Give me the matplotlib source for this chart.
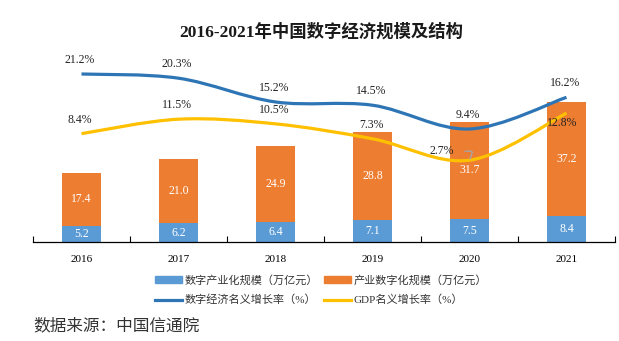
import numpy as np
import matplotlib
matplotlib.use("Agg")
import matplotlib.pyplot as plt
from matplotlib.path import Path
from matplotlib.patches import PathPatch, Patch
from matplotlib.lines import Line2D

# données (CAICT)
annees = ["2016", "2017", "2018", "2019", "2020", "2021"]
industrie_num = [5.2, 6.2, 6.4, 7.1, 7.5, 8.4]        # 数字产业化规模
num_industrie = [17.4, 21.0, 24.9, 28.8, 31.7, 37.2]  # 产业数字化规模
croiss_eco_num = [21.2, 20.3, 15.2, 14.5, 9.4, 16.2]  # 数字经济名义增长率
croiss_pib = [8.4, 11.5, 10.5, 7.3, 2.7, 12.8]        # GDP名义增长率

BLEU_CLAIR = "#5B9BD5"
ORANGE = "#ED7D31"
BLEU = "#2E75B6"
JAUNE = "#FFC000"
POLICE = ["Liberation Serif", "Noto Sans CJK SC"]

plt.rcParams["font.family"] = POLICE


def courbe_lisse(x, y):
    '''chemin de Bezier qui passe par tous les points (comme les courbes lissees d'Excel)'''
    pts = np.column_stack([x, y]).astype(float)
    n = len(pts)
    verts = [pts[0]]
    codes = [Path.MOVETO]
    for i in range(n - 1):
        p0 = pts[i - 1] if i > 0 else pts[i]
        p1 = pts[i]
        p2 = pts[i + 1]
        p3 = pts[i + 2] if i + 2 < n else pts[i + 1]
        c1 = p1 + (p2 - p0) / 6
        c2 = p2 - (p3 - p1) / 6
        verts += [c1, c2, p2]
        codes += [Path.CURVE4] * 3
    return Path(verts, codes)


fig = plt.figure(figsize=(6.19, 3.41), dpi=100)
ax = fig.add_axes([33 / 619, 99 / 341, 582 / 619, 192 / 341])
x = np.arange(len(annees))

b1 = ax.bar(x, industrie_num, 0.4, color=BLEU_CLAIR)
b2 = ax.bar(x, num_industrie, 0.4, bottom=industrie_num, color=ORANGE)
for i in range(len(x)):
    ax.text(x[i], industrie_num[i] / 2, "%.1f" % industrie_num[i], ha="center", va="center",
            color="white", fontsize=8.5)
    ax.text(x[i], industrie_num[i] + num_industrie[i] / 2, "%.1f" % num_industrie[i],
            ha="center", va="center", color="white", fontsize=8.5)

ax.set_xlim(-0.5, 5.5)
ax.set_ylim(0, 62.7)
ax.set_xticks(np.arange(-0.5, 6, 1))
ax.set_xticklabels([])
ax.set_xticks(x, minor=True)
ax.set_xticklabels(annees, minor=True, fontsize=8)
ax.tick_params(axis="x", which="major", direction="in", length=4, width=0.8)
ax.tick_params(axis="x", which="minor", length=0, pad=9)
ax.set_yticks([])
for s in ["left", "right", "top"]:
    ax.spines[s].set_visible(False)
ax.spines["bottom"].set_linewidth(0.9)

ax2 = ax.twinx()
ax2.set_ylim(-14.85, 26.35)
ax2.set_yticks([])
for s in ["left", "right", "top", "bottom"]:
    ax2.spines[s].set_visible(False)

ax2.add_patch(PathPatch(courbe_lisse(x, croiss_eco_num), fill=False, edgecolor=BLEU, lw=2.3,
                        capstyle="butt"))
ax2.add_patch(PathPatch(courbe_lisse(x, croiss_pib), fill=False, edgecolor=JAUNE, lw=2.3,
                        capstyle="butt"))

for i in range(len(x)):
    ax2.annotate("%.1f%%" % croiss_eco_num[i], (x[i], croiss_eco_num[i]), xytext=(-1, 10),
                 textcoords="offset points", ha="center", va="center", fontsize=8.5, color="#222222")
for i in range(len(x)):
    if i == 4:
        ax2.annotate("%.1f%%" % croiss_pib[i], (x[i], croiss_pib[i]), xytext=(-20, 6.5),
                     textcoords="offset points", ha="center", va="center", fontsize=8.5,
                     color="#222222",
                     arrowprops=dict(arrowstyle="-", color="#A6A6A6", lw=1,
                                     shrinkA=6, shrinkB=1,
                                     connectionstyle="angle,angleA=0,angleB=70,rad=2"))
    elif i == 5:
        ax2.annotate("%.1f%%" % croiss_pib[i], (x[i], croiss_pib[i]), xytext=(-3, -7),
                     textcoords="offset points", ha="center", va="center", fontsize=8.5,
                     color="#222222")
    else:
        ax2.annotate("%.1f%%" % croiss_pib[i], (x[i], croiss_pib[i]), xytext=(-1, 10),
                     textcoords="offset points", ha="center", va="center", fontsize=8.5,
                     color="#222222")

fig.text(321 / 619, 1 - 32 / 341, "2016-2021年中国数字经济规模及结构", ha="center", va="center",
         fontsize=12.5, fontweight="bold", color="#1a1a1a")

# ordre colonne par colonne pour avoir les barres sur la premiere ligne
poignees = [Patch(color=BLEU_CLAIR), Line2D([], [], color=BLEU, lw=2.3),
            Patch(color=ORANGE), Line2D([], [], color=JAUNE, lw=2.3)]
textes = ["数字产业化规模（万亿元）", "数字经济名义增长率（%）",
          "产业数字化规模（万亿元）", "GDP名义增长率（%）"]
fig.legend(poignees, textes, loc="center", bbox_to_anchor=(321 / 619, 1 - 290 / 341), ncol=2,
           frameon=False, fontsize=8, handlelength=2.4, handleheight=0.55, handletextpad=0.2,
           columnspacing=0.6, labelspacing=0.85, borderpad=0, labelcolor="#333333")

fig.text(33 / 619, 1 - 326 / 341, "数据来源：中国信通院", ha="left", va="center", fontsize=12,
         color="#333333", family=["Noto Sans CJK SC"])

fig.savefig("out.png", dpi=100)
